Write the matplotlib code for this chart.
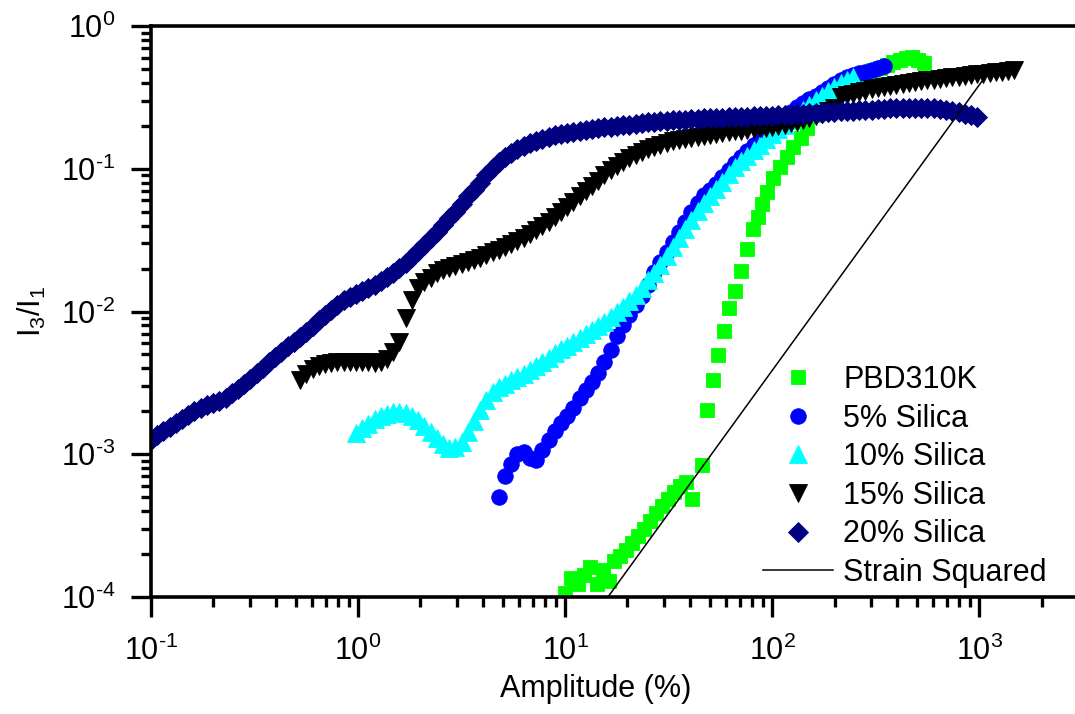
import matplotlib
matplotlib.use('Agg')
import matplotlib.pyplot as plt
from matplotlib.ticker import FuncFormatter, NullFormatter
import numpy as np

plt.rcParams['font.family'] = 'Liberation Sans'
plt.rcParams['mathtext.fontset'] = 'custom'
plt.rcParams['mathtext.rm'] = 'Liberation Sans'
plt.rcParams['mathtext.it'] = 'Liberation Sans:italic'
plt.rcParams['mathtext.bf'] = 'Liberation Sans:bold'

# amplitude sweep (%) shared by the silica samples
amp = [0.1000, 0.1072, 0.1148, 0.1230, 0.1318, 0.1413, 0.1514, 0.1622, 0.1738, 0.1862,
       0.1995, 0.2138, 0.2291, 0.2455, 0.2630, 0.2818, 0.3020, 0.3236, 0.3467, 0.3715,
       0.3981, 0.4266, 0.4571, 0.4898, 0.5248, 0.5623, 0.6026, 0.6457, 0.6918, 0.7413,
       0.7943, 0.8511, 0.9120, 0.9772,
       1.047, 1.122, 1.202, 1.288, 1.380, 1.479, 1.585, 1.698, 1.820, 1.950,
       2.089, 2.239, 2.399, 2.570, 2.754, 2.951, 3.162, 3.388, 3.631, 3.890,
       4.169, 4.467, 4.786, 5.129, 5.495, 5.888, 6.310, 6.761, 7.244, 7.762,
       8.318, 8.913, 9.550,
       10.23, 10.96, 11.75, 12.59, 13.49, 14.45, 15.49, 16.60, 17.78, 19.05,
       20.42, 21.88, 23.44, 25.12, 26.92, 28.84, 30.90, 33.11, 35.48, 38.02,
       40.74, 43.65, 46.77, 50.12, 53.70, 57.54, 61.66, 66.07, 70.79, 75.86,
       81.28, 87.10, 93.33,
       100.0, 107.2, 114.8, 123.0, 131.8, 141.3, 151.4, 162.2, 173.8, 186.2,
       199.5, 213.8, 229.1, 245.5, 263.0, 281.8, 302.0, 323.6, 346.7, 371.5,
       398.1, 426.6, 457.1, 489.8, 524.8, 562.3, 602.6, 645.7, 691.8, 741.3,
       794.3, 851.1, 912.0, 977.2,
       1047, 1122, 1202, 1288, 1380, 1479]

# PBD310K (own sweep)
x_pbd = [10.0, 10.7, 11.6, 12.4, 13.2, 14.3, 15.3, 16.3, 17.3, 18.4,
         19.7, 21.1, 22.5, 24.1, 25.7, 27.5, 29.4, 31.5, 33.6, 35.9,
         38.4, 41.1, 45.9, 48.5, 51.9, 54.8, 58.6, 61.9, 66.2, 70.8,
         75.7, 80.9, 85.5, 89.5, 94.6, 101, 109, 118, 126, 137,
         148, 158, 171, 184, 197, 213, 230, 246, 266, 288,
         308, 333, 359, 384, 415, 444, 475, 508, 543]
y_pbd = [1.07e-4, 1.36e-4, 1.23e-4, 1.43e-4, 1.62e-4, 1.23e-4, 1.55e-4, 1.29e-4, 1.79e-4, 1.94e-4,
         2.13e-4, 2.39e-4, 2.68e-4, 2.99e-4, 3.41e-4, 3.87e-4, 4.34e-4, 4.86e-4, 5.44e-4, 5.99e-4,
         6.39e-4, 4.86e-4, 8.41e-4, 2.04e-3, 3.31e-3, 4.96e-3, 7.30e-3, 1.06e-2, 1.39e-2, 1.92e-2,
         2.74e-2, 3.78e-2, 4.59e-2, 5.66e-2, 6.87e-2, 8.61e-2, 0.103, 0.121, 0.142, 0.164,
         0.193, 0.238, 0.289, 0.323, 0.356, 0.386, 0.405, 0.425, 0.446, 0.469,
         0.492, 0.508, 0.533, 0.560, 0.578, 0.597, 0.606, 0.578, 0.551]

# 5% silica, starts at amp[56]
i5 = 56
y5 = [5.02e-4, 7.04e-4, 8.54e-4, 1.00e-3, 1.04e-3, 9.41e-4, 9.11e-4, 1.07e-3, 1.26e-3, 1.46e-3,
      1.66e-3, 1.85e-3, 2.11e-3, 2.48e-3, 2.82e-3, 3.21e-3, 3.71e-3, 4.43e-3, 5.37e-3, 6.74e-3,
      8.04e-3, 9.45e-3, 1.11e-2, 1.28e-2, 1.54e-2, 1.89e-2, 2.22e-2, 2.61e-2, 3.07e-2, 3.61e-2,
      4.24e-2, 4.98e-2, 5.75e-2, 6.55e-2, 7.10e-2, 7.82e-2, 8.76e-2, 9.80e-2, 0.110, 0.121,
      0.133, 0.147, 0.162, 0.175, 0.193, 0.213, 0.230, 0.250, 0.271, 0.289,
      0.308, 0.323, 0.345, 0.368, 0.392, 0.418, 0.439, 0.454, 0.469, 0.476,
      0.492, 0.508, 0.525]

# 10% silica, starts at amp[33]
i10 = 33
y10 = [1.41e-3, 1.53e-3, 1.63e-3, 1.77e-3, 1.85e-3, 1.91e-3, 1.98e-3, 1.98e-3, 1.95e-3, 1.85e-3,
       1.74e-3, 1.58e-3, 1.43e-3, 1.30e-3, 1.18e-3, 1.11e-3, 1.12e-3, 1.22e-3, 1.43e-3, 1.71e-3,
       2.04e-3, 2.40e-3, 2.73e-3, 2.96e-3, 3.11e-3, 3.31e-3, 3.48e-3, 3.65e-3, 3.89e-3, 4.15e-3,
       4.43e-3, 4.72e-3, 5.12e-3, 5.46e-3, 5.73e-3, 6.11e-3, 6.52e-3, 6.96e-3, 7.41e-3, 7.92e-3,
       8.44e-3, 9.15e-3, 9.92e-3, 1.08e-2, 1.18e-2, 1.30e-2, 1.46e-2, 1.66e-2, 1.86e-2, 2.12e-2,
       2.45e-2, 2.83e-2, 3.27e-2, 3.78e-2, 4.38e-2, 5.06e-2, 5.75e-2, 6.44e-2, 7.21e-2, 8.08e-2,
       9.19e-2, 0.103, 0.113, 0.123, 0.135, 0.147, 0.162, 0.175, 0.190, 0.202,
       0.220, 0.238, 0.258, 0.280, 0.303, 0.323, 0.350, 0.374, 0.399, 0.418,
       0.439]

# 15% silica, starts at amp[24]
i15 = 24
y15 = [3.31e-3, 3.65e-3, 3.96e-3, 4.15e-3, 4.29e-3, 4.36e-3, 4.43e-3, 4.43e-3, 4.43e-3, 4.43e-3,
       4.43e-3, 4.43e-3, 4.36e-3, 4.43e-3, 4.65e-3, 5.20e-3, 6.11e-3, 9.01e-3, 1.20e-2, 1.46e-2,
       1.61e-2, 1.72e-2, 1.86e-2, 1.95e-2, 2.02e-2, 2.08e-2, 2.15e-2, 2.22e-2, 2.30e-2, 2.37e-2,
       2.49e-2, 2.61e-2, 2.70e-2, 2.83e-2, 2.97e-2, 3.12e-2, 3.27e-2, 3.49e-2, 3.72e-2, 3.97e-2,
       4.24e-2, 4.59e-2, 4.98e-2, 5.40e-2, 5.85e-2, 6.44e-2, 6.98e-2, 7.57e-2, 8.21e-2, 9.04e-2,
       9.80e-2, 0.105, 0.112, 0.119, 0.125, 0.131, 0.138, 0.142, 0.147, 0.152,
       0.156, 0.159, 0.162, 0.164, 0.167, 0.170, 0.172, 0.175, 0.178, 0.181,
       0.184, 0.184, 0.187, 0.190, 0.193, 0.193, 0.196, 0.199, 0.202, 0.209,
       0.213, 0.220, 0.227, 0.234, 0.242, 0.254, 0.266, 0.318, 0.329, 0.334,
       0.345, 0.350, 0.362, 0.368, 0.374, 0.380, 0.386, 0.392, 0.399, 0.405,
       0.412, 0.418, 0.418, 0.425, 0.432, 0.439, 0.439, 0.446, 0.454, 0.461,
       0.461, 0.469, 0.476, 0.476, 0.484, 0.492]

# 20% silica, starts at amp[0]
i20 = 0
y20 = [1.26e-3, 1.36e-3, 1.46e-3, 1.55e-3, 1.66e-3, 1.77e-3, 1.88e-3, 2.01e-3, 2.11e-3, 2.21e-3,
       2.29e-3, 2.36e-3, 2.48e-3, 2.69e-3, 2.86e-3, 3.11e-3, 3.37e-3, 3.71e-3, 4.02e-3, 4.43e-3,
       4.80e-3, 5.20e-3, 5.73e-3, 6.11e-3, 6.62e-3, 7.18e-3, 7.92e-3, 8.72e-3, 9.45e-3, 1.02e-2,
       1.11e-2, 1.20e-2, 1.26e-2, 1.33e-2, 1.39e-2, 1.46e-2, 1.54e-2, 1.64e-2, 1.74e-2, 1.86e-2,
       2.02e-2, 2.19e-2, 2.41e-2, 2.65e-2, 2.92e-2, 3.27e-2, 3.61e-2, 4.04e-2, 4.52e-2, 4.98e-2,
       5.66e-2, 6.44e-2, 7.10e-2, 7.95e-2, 9.04e-2, 0.101, 0.112, 0.121, 0.129, 0.138,
       0.144, 0.152, 0.156, 0.162, 0.167, 0.172, 0.175, 0.178, 0.181, 0.184,
       0.187, 0.190, 0.193, 0.196, 0.196, 0.199, 0.202, 0.202, 0.206, 0.209,
       0.213, 0.213, 0.216, 0.216, 0.220, 0.220, 0.220, 0.223, 0.223, 0.227,
       0.227, 0.227, 0.227, 0.230, 0.230, 0.230, 0.230, 0.234, 0.234, 0.234,
       0.234, 0.238, 0.238, 0.238, 0.242, 0.242, 0.246, 0.246, 0.246, 0.250,
       0.250, 0.254, 0.254, 0.254, 0.258, 0.258, 0.258, 0.262, 0.262, 0.266,
       0.266, 0.266, 0.266, 0.266, 0.266, 0.266, 0.266, 0.262, 0.258, 0.254,
       0.250, 0.242, 0.238, 0.230]

# strain squared guide line
strain_x = [10, 1030]
strain_y = [3.86e-5, 0.41]

x5 = amp[i5:i5 + len(y5)]
x10 = amp[i10:i10 + len(y10)]
x15 = amp[i15:i15 + len(y15)]
x20 = amp[i20:i20 + len(y20)]


def decade_label(v, pos):
    e = int(round(np.log10(v)))
    if e < 0:
        return r'$\mathregular{10^{\text{-}%d}}$' % -e
    return r'$\mathregular{10^{%d}}$' % e


fig = plt.figure(figsize=(10.75, 7.14), dpi=100)
ax = fig.add_axes([151/1075, 1 - 597/714, 924/1075, 571/714])

ax.plot(x_pbd, y_pbd, 's', color='#00FF00', ms=9.8, mew=0.6, label='PBD310K')
ax.plot(x5, y5, 'o', color='#0000FF', ms=11.2, mew=0.6, label='5% Silica')
ax.plot(x10, y10, '^', color='#00FFFF', ms=12.3, mew=0.6, label='10% Silica')
ax.plot(x15, y15, 'v', color='black', ms=12.3, mew=0.6, label='15% Silica')
ax.plot(x20, y20, 'D', color='#000080', ms=10.2, mew=0.6, label='20% Silica')
ax.plot(strain_x, strain_y, '-', color='black', lw=1.1, label='Strain Squared')

ax.set_xscale('log')
ax.set_yscale('log')
ax.set_xlim(0.1, 2900)
ax.set_ylim(1e-4, 1)

ax.xaxis.set_major_formatter(FuncFormatter(decade_label))
ax.yaxis.set_major_formatter(FuncFormatter(decade_label))
ax.xaxis.set_minor_formatter(NullFormatter())
ax.yaxis.set_minor_formatter(NullFormatter())

for side in ['left', 'bottom', 'top']:
    ax.spines[side].set_linewidth(2.6)
ax.spines['right'].set_visible(False)

ax.tick_params(which='major', direction='out', length=14.7, width=2.4, labelsize=22)
ax.tick_params(which='minor', direction='out', length=7.2, width=2.4)
ax.tick_params(which='both', top=False, right=False)
ax.xaxis.set_tick_params(which='major', pad=13)
ax.yaxis.set_tick_params(which='major', pad=11)

ax.set_xlabel('Amplitude (%)', fontsize=22)
ax.xaxis.set_label_coords(0.4816, -0.135)
ax.set_ylabel(r'$\mathregular{I_3/I_1}$', fontsize=22)
ax.yaxis.set_label_coords(-0.112, 0.5)

ax.legend(loc='upper left', bbox_to_anchor=(763/1075, 1 - 365/714),
          bbox_transform=fig.transFigure, frameon=False, borderpad=0,
          borderaxespad=0, handlelength=2.3, handletextpad=0.33,
          labelspacing=0.28, fontsize=22, numpoints=1)

fig.savefig('out.png', dpi=100)
